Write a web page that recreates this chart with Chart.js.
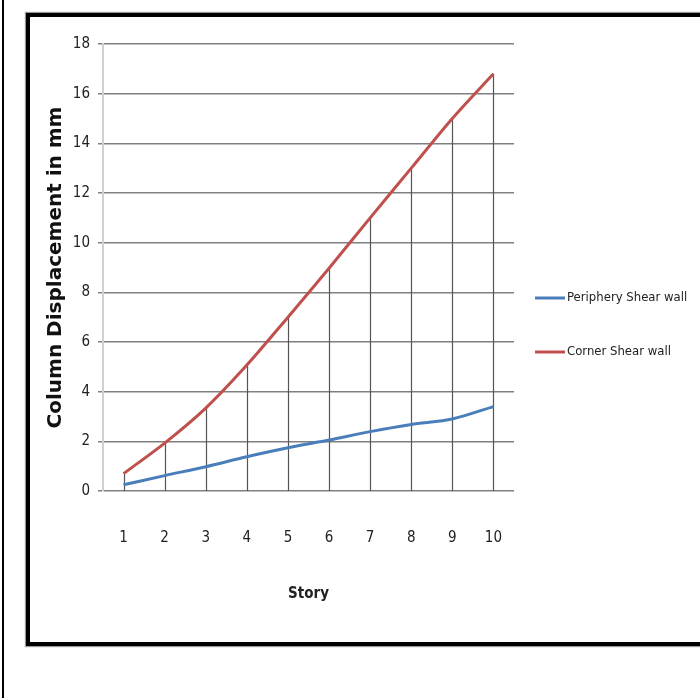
<!DOCTYPE html>
<html>
<head>
<meta charset="utf-8">
<script src="https://cdn.jsdelivr.net/npm/chart.js@4"></script>
<style>
  html, body { margin: 0; padding: 0; background: #fff; }
  #wrap { position: relative; width: 700px; height: 698px; overflow: hidden; }
  #chart { position: absolute; left: 0; top: 0; }
  .frame { position: absolute; pointer-events: none; }
  #outer { left: 2px; top: 0; width: 0; height: 698px; border-left: 2px solid #000; }
  #box { left: 26px; top: 13px; width: 690px; height: 625px; border: 4px solid #000;
         box-shadow: 0 0 1px 1px #999; }
</style>
</head>
<body>
<div id="wrap">
  <canvas id="chart" width="700" height="698"></canvas>
  <div class="frame" id="outer"></div>
  <div class="frame" id="box"></div>
</div>
<script>
const stories = ['1', '2', '3', '4', '5', '6', '7', '8', '9', '10'];
const periphery = [0.25, 0.62, 0.98, 1.38, 1.74, 2.05, 2.39, 2.68, 2.9, 3.4];
const corner = [0.7, 1.93, 3.34, 5.07, 7.0, 8.97, 11.0, 13.0, 15.0, 16.8];
const yTicks = [0, 2, 4, 6, 8, 10, 12, 14, 16, 18];

const narrow = "'Liberation Sans Narrow', 'DejaVu Sans Condensed', sans-serif";

// vertical drop lines from the corner series down to zero
const dropLines = {
  id: 'dropLines',
  beforeDatasetsDraw(chart) {
    const ctx = chart.ctx;
    const x = chart.scales.x, y = chart.scales.y;
    ctx.save();
    ctx.strokeStyle = '#555';
    ctx.lineWidth = 1.2;
    corner.forEach((v, i) => {
      const px = Math.round(x.getPixelForValue(i)) + 0.5;
      ctx.beginPath();
      ctx.moveTo(px, y.getPixelForValue(v));
      ctx.lineTo(px, y.getPixelForValue(0));
      ctx.stroke();
    });
    ctx.restore();
  }
};

// legend on the right, drawn from the dataset labels/colours
const sideLegend = {
  id: 'sideLegend',
  afterDraw(chart) {
    const ctx = chart.ctx;
    const left = chart.chartArea.right + 21;
    const rows = [298, 352];
    ctx.save();
    ctx.font = '13px ' + narrow;
    ctx.textBaseline = 'middle';
    chart.data.datasets.forEach((ds, i) => {
      ctx.strokeStyle = ds.borderColor;
      ctx.lineWidth = 3;
      ctx.beginPath();
      ctx.moveTo(left, rows[i]);
      ctx.lineTo(left + 30, rows[i]);
      ctx.stroke();
      ctx.fillStyle = '#222';
      ctx.fillText(ds.label, left + 32, rows[i]);
    });
    ctx.restore();
  }
};

const ctx = document.getElementById('chart');

new Chart(ctx, {
  type: 'line',
  data: {
    labels: stories,
    datasets: [{
      label: 'Periphery Shear wall',
      data: periphery,
      borderColor: '#4a7ebb',
      backgroundColor: '#4a7ebb',
      borderWidth: 3,
      pointRadius: 0,
      tension: 0.3
    }, {
      label: 'Corner Shear wall',
      data: corner,
      borderColor: '#c0504d',
      backgroundColor: '#c0504d',
      borderWidth: 3,
      pointRadius: 0,
      tension: 0.3
    }]
  },
  plugins: [dropLines, sideLegend],
  options: {
    responsive: false,
    animation: false,
    layout: {
      padding: { left: 40, top: 44, right: 186, bottom: 91 }
    },
    plugins: {
      tooltip: { enabled: false },
      legend: { display: false }
    },
    scales: {
      x: {
        offset: true,
        grid: { display: false },
        border: { display: false },
        ticks: { color: '#222', padding: 30, font: { family: narrow, size: 15 } },
        title: {
          display: true,
          text: 'Story',
          color: '#222',
          font: { family: narrow, size: 15, weight: 'bold' }
        },
        afterFit(scale) { scale.height = 116; }
      },
      y: {
        min: 0,
        max: 18,
        afterBuildTicks(scale) { scale.ticks = yTicks.map(v => ({ value: v })); },
        grid: { color: '#808080', lineWidth: 1.5, tickLength: 5 },
        border: { display: true, color: '#d0d0d0', width: 2 },
        ticks: { color: '#222', padding: 8, font: { family: narrow, size: 15 } },
        title: {
          display: true,
          text: 'Column Displacement in mm',
          color: '#111',
          font: { family: 'DejaVu Sans', size: 20, weight: 'bold' }
        },
        afterFit(scale) { scale.width = 63; }
      }
    }
  }
});
</script>
</body>
</html>
